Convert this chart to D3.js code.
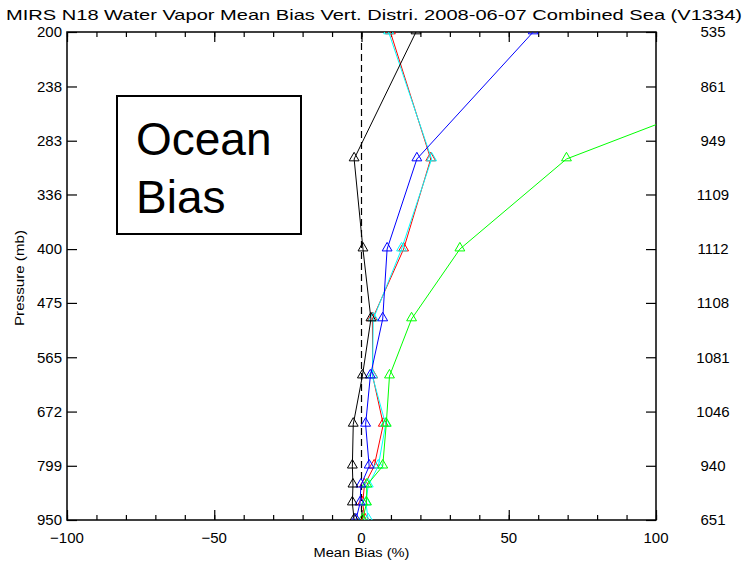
<!DOCTYPE html>
<html>
<head>
<meta charset="utf-8">
<script src="https://cdn.jsdelivr.net/npm/d3@7"></script>
<style>
  body { margin: 0; background: #fff; }
  text { font-family: "Liberation Sans", "DejaVu Sans", sans-serif; fill: #000; }
</style>
</head>
<body>
<svg id="chart" width="747" height="563"></svg>
<script>
// pressure levels of the profile points (mb)
const levels = [200, 300, 400, 500, 600, 700, 800, 850, 900, 950];
// mean bias (%) per series
const blackBias = [18.5, -2.5, 0.5, 3.2, 0.3, -2.8, -3.1, -2.9, -3.1, -2.5];
const redBias   = [9.8, 23.5, 14.3, 3.7, 3.8, 7.4, 4.3, 1.0, 0.4, 1.2];
const cyanBias  = [9.2, 23.8, 13.6, 4.0, 3.7, 8.2, 5.7, 2.3, 1.5, 2.3];
const blueBias  = [58.3, 18.8, 8.7, 7.2, 3.0, 1.4, 2.6, -0.2, -0.5, -1.9];
const greenBias = [182, 69.6, 33.4, 17.0, 9.5, 8.4, 7.2, 1.8, 1.7, 0.4];

// axis ticks
const pressureTicks = [200, 238, 283, 336, 400, 475, 565, 672, 799, 950];
const sampleCounts  = [535, 861, 949, 1109, 1112, 1108, 1081, 1046, 940, 651];
const xMajor = [-100, -50, 0, 50, 100];

const svg = d3.select("#chart");
const margin = { top: 32, right: 91, bottom: 43, left: 67 };
const width = +svg.attr("width") - margin.left - margin.right;
const height = +svg.attr("height") - margin.top - margin.bottom;

const g = svg.append("g").attr("transform", `translate(${margin.left},${margin.top})`);

svg.append("defs").append("clipPath").attr("id", "plotClip")
  .append("rect").attr("width", width).attr("height", height);

// escales
const x = d3.scaleLinear().domain([-100, 100]).range([0, width]);
const y = d3.scaleLog().domain([200, 950]).range([0, height]);

// titol
svg.append("text")
  .attr("x", 6).attr("y", 20)
  .attr("textLength", 736).attr("lengthAdjust", "spacingAndGlyphs")
  .style("font-size", "15px")
  .text("MIRS N18 Water Vapor Mean Bias Vert. Distri. 2008-06-07 Combined Sea (V1334)");

// eixos amb ticks cap a dins
const minorX = d3.range(-100, 101, 10);
g.append("g").attr("transform", `translate(0,${height})`)
  .call(d3.axisBottom(x).tickValues(minorX).tickSizeInner(-5).tickSizeOuter(0).tickFormat(""));
g.append("g")
  .call(d3.axisTop(x).tickValues(minorX).tickSizeInner(-5).tickSizeOuter(0).tickFormat(""));
g.append("g").attr("transform", `translate(0,${height})`)
  .call(d3.axisBottom(x).tickValues(xMajor).tickSizeInner(-10).tickSizeOuter(0).tickFormat(""));
g.append("g")
  .call(d3.axisTop(x).tickValues(xMajor).tickSizeInner(-10).tickSizeOuter(0).tickFormat(""));
g.append("g")
  .call(d3.axisLeft(y).tickValues(pressureTicks).tickSizeInner(-10).tickSizeOuter(0).tickFormat(""));
g.append("g").attr("transform", `translate(${width},0)`)
  .call(d3.axisRight(y).tickValues(pressureTicks).tickSizeInner(-10).tickSizeOuter(0).tickFormat(""));
g.selectAll(".domain").remove();
g.selectAll(".tick line").attr("stroke", "#000").attr("stroke-width", 1.2);

g.append("rect")
  .attr("width", width).attr("height", height)
  .attr("fill", "none").attr("stroke", "#000").attr("stroke-width", 1.5);

// etiquetes
g.selectAll(".ylab").data(pressureTicks).enter().append("text")
  .attr("x", -5).attr("y", d => y(d)).attr("dy", "0.35em")
  .attr("text-anchor", "end").style("font-size", "15px")
  .text(d => d);

g.selectAll(".rlab").data(pressureTicks).enter().append("text")
  .attr("x", width + 57).attr("y", d => y(d)).attr("dy", "0.35em")
  .attr("text-anchor", "middle").style("font-size", "15px")
  .text((d, i) => sampleCounts[i]);

g.selectAll(".xlab").data(xMajor).enter().append("text")
  .attr("x", d => x(d)).attr("y", height + 23)
  .attr("text-anchor", "middle").style("font-size", "15px")
  .text(d => d < 0 ? "\u2212" + Math.abs(d) : d);

svg.append("text")
  .attr("x", margin.left + x(0)).attr("y", 557)
  .attr("text-anchor", "middle").style("font-size", "12px")
  .attr("textLength", 96).attr("lengthAdjust", "spacingAndGlyphs")
  .text("Mean Bias (%)");

svg.append("text")
  .attr("transform", `translate(24,278) rotate(-90)`)
  .attr("text-anchor", "middle").style("font-size", "12px")
  .attr("textLength", 96).attr("lengthAdjust", "spacingAndGlyphs")
  .text("Pressure (mb)");

// linia zero
g.append("line")
  .attr("x1", x(0)).attr("x2", x(0)).attr("y1", 0).attr("y2", height)
  .attr("stroke", "#000").attr("stroke-width", 1.2).attr("stroke-dasharray", "7,4");

// series
const series = [
  { color: "#ff0000", values: redBias },
  { color: "#00ffff", values: cyanBias },
  { color: "#00ff00", values: greenBias },
  { color: "#0000ff", values: blueBias },
  { color: "#000000", values: blackBias }
];

const line = d3.line().x(d => x(d.v)).y(d => y(d.p));
const tri = d3.symbol().type(d3.symbolTriangle).size(42);
const plot = g.append("g").attr("clip-path", "url(#plotClip)");

series.forEach(s => {
  const pts = levels.map((p, i) => ({ p: p, v: s.values[i] }));
  plot.append("path").datum(pts)
    .attr("d", line).attr("fill", "none")
    .attr("stroke", s.color).attr("stroke-width", 1);
  plot.selectAll(null).data(pts.filter(d => d.v <= 100)).enter().append("path")
    .attr("d", tri)
    .attr("transform", d => `translate(${x(d.v)},${y(d.p) - 1})`)
    .attr("fill", "none").attr("stroke", s.color).attr("stroke-width", 1);
});

// caixa "Ocean Bias"
svg.append("rect")
  .attr("x", 117).attr("y", 96).attr("width", 184).attr("height", 138)
  .attr("fill", "#fff").attr("stroke", "#000").attr("stroke-width", 2);
svg.append("text").attr("x", 136).attr("y", 155).style("font-size", "46px").text("Ocean");
svg.append("text").attr("x", 136).attr("y", 213).style("font-size", "46px").text("Bias");
</script>
</body>
</html>
